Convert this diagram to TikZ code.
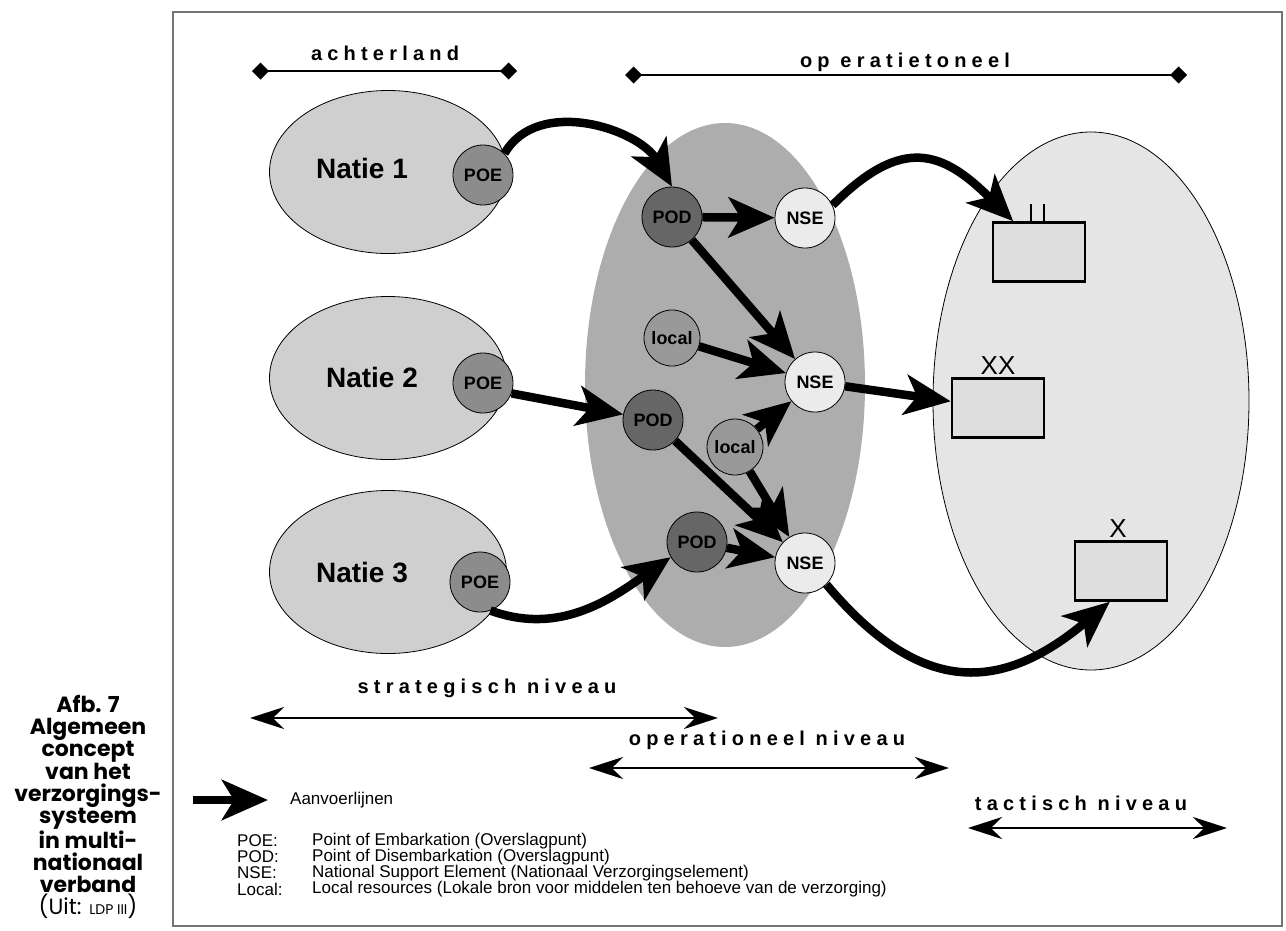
\documentclass[tikz,border=0pt]{standalone}
\usepackage{fontspec}
\setmainfont{Liberation Sans}
\newfontfamily\capfont{Poppins}
\newfontfamily\spacedfont{Liberation Sans}[LetterSpace=26]
\usetikzlibrary{shapes.geometric,arrows.meta}

\definecolor{framegray}{gray}{0.45}
\definecolor{natiefill}{gray}{0.81}
\definecolor{theatrefill}{gray}{0.68}
\definecolor{tacticfill}{gray}{0.90}
\definecolor{poefill}{gray}{0.55}
\definecolor{podfill}{gray}{0.40}
\definecolor{nsefill}{gray}{0.92}
\definecolor{localfill}{gray}{0.60}
\definecolor{unitfill}{gray}{0.87}

\begin{document}
\begin{tikzpicture}[x=1pt, y=1pt,
  natie/.style = {ellipse, draw, line width=0.8pt, fill=natiefill, minimum width=237pt, minimum height=163pt},
  station/.style = {circle, draw, line width=0.8pt, minimum size=60pt, inner sep=0pt, font=\fontsize{18}{18}\selectfont\bfseries},
  poe/.style = {station, fill=poefill},
  pod/.style = {station, fill=podfill},
  nse/.style = {station, fill=nsefill},
  localres/.style = {station, fill=localfill, minimum size=56pt},
  unitbox/.style = {draw, line width=2.5pt, fill=unitfill, minimum width=92pt, minimum height=59pt},
  supply/.style = {line width=8.5pt, -{Stealth[length=46pt,width=40pt,inset=12pt]}},
  levelarrow/.style = {line width=2.2pt, {Stealth[length=34pt,width=22pt]}-{Stealth[length=34pt,width=22pt]}},
  zoneline/.style = {line width=1.6pt, {Diamond[length=17pt,width=17pt]}-{Diamond[length=17pt,width=17pt]}},
  spaced/.style = {font=\spacedfont\bfseries\fontsize{20}{20}\selectfont},
  legendtext/.style = {anchor=west, inner sep=0pt, font=\fontsize{17}{17}\selectfont}]

  \useasboundingbox (0,0) rectangle (1286,-930);
  \draw[framegray, line width=1.5pt] (173,-12) rectangle (1282,-926);

  % caption
  \node[align=center, font=\capfont\bfseries\fontsize{22}{22}\selectfont] (caption) at (88,-807)
    {Afb. 7\\Algemeen\\concept\\van het\\verzorgings-\\systeem\\in multi-\\nationaal\\verband\\{\mdseries (Uit: {\fontsize{14}{22}\selectfont LDP III})}};

  % zones
  \node[spaced] (backtext) at (385,-53) {achterland};
  \coordinate (backL) at (252,-71);
  \coordinate (backR) at (517,-71);
  \draw[zoneline] (backL) -- (backR);
  \node[spaced] (theatretext) at (905,-62) {op eratietoneel};
  \coordinate (theatreL) at (625,-75);
  \coordinate (theatreR) at (1187,-75);
  \draw[zoneline] (theatreL) -- (theatreR);

  \node[ellipse, fill=theatrefill, minimum width=280pt, minimum height=524pt] (podzone) at (725,-385) {};
  \node[ellipse, draw, line width=0.8pt, fill=tacticfill, minimum width=316pt, minimum height=538pt] (tacticzone) at (1091,-401) {};

  \node[natie] (natieA) at (388,-172) {};
  \node[natie] (natieB) at (388,-378) {};
  \node[natie] (natieC) at (388,-572) {};
  \node[font=\fontsize{28}{28}\selectfont\bfseries] (natieAtext) at (362,-168) {Natie 1};
  \node[font=\fontsize{28}{28}\selectfont\bfseries] (natieBtext) at (372,-377) {Natie 2};
  \node[font=\fontsize{28}{28}\selectfont\bfseries] (natieCtext) at (362,-573) {Natie 3};

  % stations
  \node[poe] (poeA) at (483,-175) {POE};
  \node[poe] (poeB) at (483,-383) {POE};
  \node[poe] (poeC) at (480,-582) {POE};
  \node[pod] (podA) at (672,-217) {POD};
  \node[pod] (podB) at (653,-420) {POD};
  \node[pod] (podC) at (697,-542) {POD};
  \node[localres] (locA) at (672,-338) {local};
  \node[localres] (locB) at (735,-447) {local};
  \node[nse] (nseA) at (805,-218) {NSE};
  \node[nse] (nseB) at (815,-382) {NSE};
  \node[nse] (nseC) at (805,-563) {NSE};

  % units
  \node[unitbox] (boxA) at (1039,-252) {};
  \node[unitbox] (boxB) at (998,-408) {};
  \node[unitbox] (boxC) at (1121,-571) {};
  \draw[line width=2.5pt] ([xshift=-8pt]boxA.north) -- ++(0,17);
  \draw[line width=2.5pt] ([xshift=5pt]boxA.north) -- ++(0,17);
  \node[font=\fontsize{26}{26}\selectfont, inner sep=0pt] (boxBtext) at (998,-366) {XX};
  \node[font=\fontsize{26}{26}\selectfont, inner sep=0pt] (boxCtext) at (1118,-529) {X};

  % supply lines
  \draw[supply] (poeA.45) to[out=60,in=120] (podA.north);
  \draw[supply] (podA) -- (nseA);
  \draw[supply] (podA) -- (nseB);
  \draw[supply] (locA) -- (nseB);
  \draw[supply] (poeB.-20) -- (podB);
  \draw[supply] (locB) -- (nseB);
  \draw[supply] (podB) -- (nseC);
  \draw[supply] (locB) -- (nseC);
  \draw[supply] (podC) -- (nseC);
  \draw[supply] (poeC.-70) to[out=-20,in=-145] (podC.-150);
  \draw[supply] (nseA.25) to[out=45,in=135,looseness=1.4] (boxA.130);
  \draw[supply] (nseB) -- (boxB);
  \draw[supply] (nseC.-45) to[out=-50,in=-140,looseness=1.3] (boxC.-110);

  % levels
  \node[spaced] (strattext) at (487,-688) {strategisch niveau};
  \coordinate (stratL) at (250,-718);
  \coordinate (stratR) at (718,-718);
  \draw[levelarrow] (stratL) -- (stratR);
  \node[spaced] (opertext) at (767,-740) {operationeel niveau};
  \coordinate (operL) at (589,-768);
  \coordinate (operR) at (949,-768);
  \draw[levelarrow] (operL) -- (operR);
  \node[spaced] (tacttext) at (1081,-803) {tactisch niveau};
  \coordinate (tactL) at (968,-828);
  \coordinate (tactR) at (1227,-828);
  \draw[levelarrow] (tactL) -- (tactR);

  % legend
  \coordinate (legendL) at (193,-800);
  \coordinate (legendR) at (268,-800);
  \draw[supply] (legendL) -- (legendR);
  \node[legendtext] (legendarrow) at (290,-800) {Aanvoerlijnen};
  \node[legendtext] (abbrA) at (237,-841) {POE:};
  \node[legendtext] (abbrB) at (237,-857) {POD:};
  \node[legendtext] (abbrC) at (237,-873) {NSE:};
  \node[legendtext] (abbrD) at (237,-889) {Local:};
  \node[legendtext] (descA) at (312,-841) {Point of Embarkation (Overslagpunt)};
  \node[legendtext] (descB) at (312,-857) {Point of Disembarkation (Overslagpunt)};
  \node[legendtext] (descC) at (312,-873) {National Support Element (Nationaal Verzorgingselement)};
  \node[legendtext] (descD) at (312,-889) {Local resources (Lokale bron voor middelen ten behoeve van de verzorging)};
\end{tikzpicture}
\end{document}
